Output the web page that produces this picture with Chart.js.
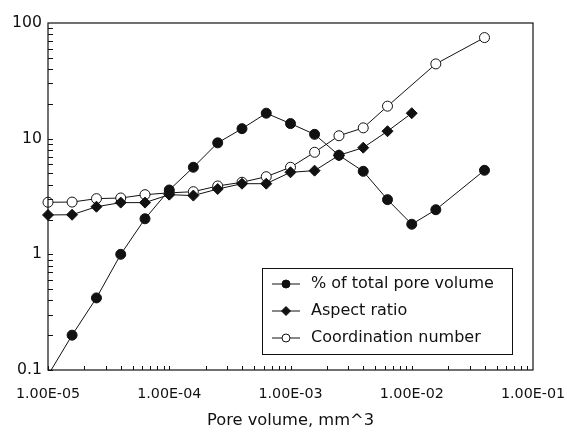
<!DOCTYPE html>
<html>
<head>
<meta charset="utf-8">
<title>Pore volume distribution</title>
<script src="https://cdn.jsdelivr.net/npm/chart.js@4/dist/chart.umd.min.js"></script>
<style>
    html, body { margin: 0; padding: 0; background: #fff; }
    #poreChart { display: block; }
</style>
</head>
<body>
<canvas id="poreChart" width="567" height="434"></canvas>
<script>
// Pore volume classes (mm^3), shared by all three series
const poreVolume = [1.00e-5, 1.58e-5, 2.51e-5, 3.98e-5, 6.31e-5, 1.00e-4, 1.58e-4, 2.51e-4, 3.98e-4,
    6.31e-4, 1.00e-3, 1.58e-3, 2.51e-3, 3.98e-3, 6.31e-3, 1.00e-2, 1.58e-2, 3.98e-2];

// null = no value for that class
const pctTotalVolume = [0.09, 0.2, 0.42, 1.0, 2.03, 3.6, 5.66, 9.2, 12.2, 16.6, 13.5, 10.9, 7.18, 5.22, 2.97, 1.82, 2.43, 5.33];
const aspectRatio = [2.19, 2.2, 2.58, 2.8, 2.8, 3.28, 3.22, 3.67, 4.08, 4.08, 5.12, 5.29, 7.18, 8.36, 11.6, 16.6, null, null];
const coordNumber = [2.82, 2.83, 3.03, 3.07, 3.28, 3.4, 3.48, 3.9, 4.2, 4.69, 5.66, 7.63, 10.6, 12.4, 19.1, null, 44.3, 74.8];

const seriesNames = ['% of total pore volume', 'Aspect ratio', 'Coordination number'];

const xTicks = [1e-5, 1e-4, 1e-3, 1e-2, 1e-1];
const xTickLabels = ['1.00E-05', '1.00E-04', '1.00E-03', '1.00E-02', '1.00E-01'];
const yTicks = [0.1, 1, 10, 100];
const yTickLabels = ['0.1', '1', '10', '100'];

const INK = '#111';
const FONT = '"DejaVu Sans", sans-serif';

function toPoints(values) {
    return poreVolume
        .map((x, i) => ({ x: x, y: values[i] }))
        .filter(p => p.y !== null);
}

// Small marker renderer used by the legend box
function drawMarker(ctx, style, x, y, r) {
    ctx.beginPath();
    if (style === 'rectRot') {
        ctx.moveTo(x, y - r);
        ctx.lineTo(x + r, y);
        ctx.lineTo(x, y + r);
        ctx.lineTo(x - r, y);
        ctx.closePath();
    } else {
        ctx.arc(x, y, r, 0, Math.PI * 2);
    }
}

// Frame, inward minor ticks and the boxed legend
const framePlugin = {
    id: 'frame',
    afterDraw(chart) {
        const ctx = chart.ctx;
        const area = chart.chartArea;
        const xs = chart.scales.x;
        const ys = chart.scales.y;

        ctx.save();
        ctx.strokeStyle = INK;
        ctx.lineWidth = 1.2;
        ctx.strokeRect(area.left, area.top, area.right - area.left, area.bottom - area.top);

        ctx.lineWidth = 1;
        ctx.beginPath();
        for (let d = 1e-5; d < 0.099; d *= 10) {
            for (let m = 1; m <= 9; m++) {
                const px = Math.round(xs.getPixelForValue(m * d)) + 0.5;
                ctx.moveTo(px, area.bottom);
                ctx.lineTo(px, area.bottom - 4);
            }
        }
        for (let d = 0.1; d < 99; d *= 10) {
            for (let m = 1; m <= 9; m++) {
                const py = Math.round(ys.getPixelForValue(m * d)) + 0.5;
                ctx.moveTo(area.left, py);
                ctx.lineTo(area.left + 5, py);
            }
        }
        ctx.stroke();

        // legend box
        const bx = area.left + 214, by = area.top + 245, bw = 250, bh = 86;
        ctx.fillStyle = '#fff';
        ctx.fillRect(bx, by, bw, bh);
        ctx.strokeRect(bx + 0.5, by + 0.5, bw, bh);

        ctx.font = '16px ' + FONT;
        ctx.textBaseline = 'middle';
        ctx.textAlign = 'left';
        chart.data.datasets.forEach((ds, i) => {
            const cy = by + 16 + i * 27;
            ctx.strokeStyle = INK;
            ctx.lineWidth = 1;
            ctx.beginPath();
            ctx.moveTo(bx + 10, cy);
            ctx.lineTo(bx + 38, cy);
            ctx.stroke();
            drawMarker(ctx, ds.pointStyle, bx + 24, cy, ds.pointStyle === 'rectRot' ? 4.5 : 4);
            ctx.fillStyle = ds.pointBackgroundColor;
            ctx.fill();
            ctx.stroke();
            ctx.fillStyle = INK;
            ctx.fillText(ds.label, bx + 49, cy);
        });
        ctx.restore();
    }
};

function makeDataset(label, values, style, fill, clip) {
    return {
        label: label,
        data: toPoints(values),
        borderColor: INK,
        borderWidth: 1,
        pointStyle: style,
        pointRadius: style === 'rectRot' ? 5.5 : 5,
        pointBackgroundColor: fill,
        pointBorderColor: INK,
        pointBorderWidth: 1,
        tension: 0,
        clip: clip
    };
}

const ctx = document.getElementById('poreChart').getContext('2d');
new Chart(ctx, {
    type: 'line',
    data: {
        datasets: [
            makeDataset(seriesNames[0], pctTotalVolume, 'circle', INK, { left: 8, top: 8, right: 8, bottom: 0 }),
            makeDataset(seriesNames[1], aspectRatio, 'rectRot', INK, 8),
            makeDataset(seriesNames[2], coordNumber, 'circle', '#fff', 8)
        ]
    },
    options: {
        responsive: false,
        animation: false,
        layout: { padding: { top: 23, right: 34, left: 0, bottom: 0 } },
        plugins: {
            legend: { display: false },
            tooltip: { enabled: false }
        },
        scales: {
            x: {
                type: 'logarithmic',
                position: 'bottom',
                min: 1e-5,
                max: 1e-1,
                grid: { display: false, drawTicks: false },
                border: { display: false },
                afterBuildTicks: scale => { scale.ticks = xTicks.map(v => ({ value: v, major: true })); },
                afterFit: scale => {
                    scale.height = 64;
                    scale.paddingLeft = 0;
                    scale.paddingRight = 0;
                },
                ticks: {
                    autoSkip: false,
                    maxRotation: 0,
                    padding: 16,
                    color: INK,
                    font: { family: FONT, size: 14.3 },
                    callback: (v, i) => xTickLabels[i]
                },
                title: {
                    display: true,
                    text: 'Pore volume, mm^3',
                    color: INK,
                    font: { family: FONT, size: 16.3 },
                    padding: { top: 0, bottom: 3 }
                }
            },
            y: {
                type: 'logarithmic',
                min: 0.1,
                max: 100,
                grid: { display: false, drawTicks: false },
                border: { display: false },
                afterBuildTicks: scale => { scale.ticks = yTicks.map(v => ({ value: v, major: true })); },
                afterFit: scale => { scale.width = 48; },
                ticks: {
                    autoSkip: false,
                    padding: 6,
                    color: INK,
                    font: { family: FONT, size: 15.7 },
                    callback: (v, i) => yTickLabels[i]
                }
            }
        }
    },
    plugins: [framePlugin]
});
</script>
</body>
</html>
